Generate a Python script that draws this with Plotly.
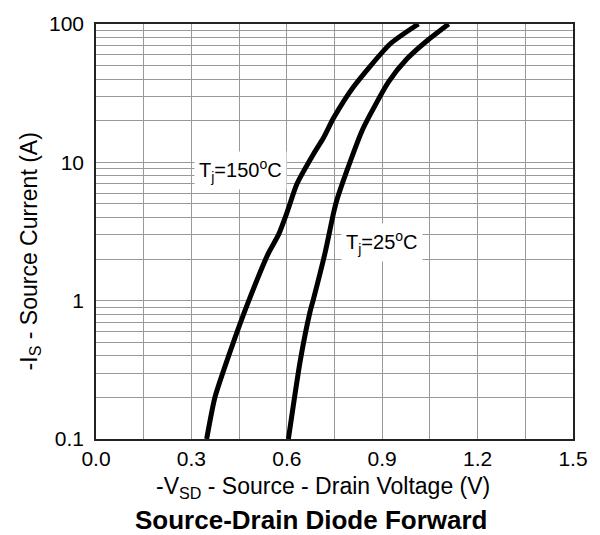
import plotly.graph_objects as go

# Data
v_150 = [0.348, 0.374, 0.422, 0.479, 0.542, 0.574, 0.600, 0.632, 0.684, 0.715, 0.747, 0.810, 0.925, 1.014]
i_150 = [0.1, 0.2, 0.43, 0.98, 2.2, 3.0, 4.3, 7.0, 11.5, 15.0, 20.9, 35.2, 71.7, 100]

v_25 = [0.605, 0.642, 0.673, 0.684, 0.720, 0.747, 0.757, 0.789, 0.836, 0.862, 0.920, 0.978, 1.041, 1.109]
i_25 = [0.1, 0.365, 0.83, 1.03, 2.2, 4.3, 5.3, 8.7, 16.8, 22.1, 38.2, 56.0, 75.7, 100]

x_tickvals = [0.0, 0.15, 0.3, 0.45, 0.6, 0.75, 0.9, 1.05, 1.2, 1.35, 1.5]
x_ticktext = ["0.0", "", "0.3", "", "0.6", "", "0.9", "", "1.2", "", "1.5"]

y_tickvals = [0.1, 0.2, 0.3, 0.4, 0.5, 0.6, 0.7, 0.8, 0.9,
              1, 2, 3, 4, 5, 6, 7, 8, 9,
              10, 20, 30, 40, 50, 60, 70, 80, 90, 100]
y_ticktext = ["0.1", "", "", "", "", "", "", "", "",
              "1", "", "", "", "", "", "", "", "",
              "10", "", "", "", "", "", "", "", "", "100"]

FONT = "Liberation Sans, Arial, sans-serif"

fig = go.Figure()
fig.add_trace(go.Scatter(x=v_150, y=i_150, mode="lines",
                         line=dict(color="black", width=5, shape="spline", smoothing=0.6),
                         showlegend=False, hoverinfo="skip"))
fig.add_trace(go.Scatter(x=v_25, y=i_25, mode="lines",
                         line=dict(color="black", width=5, shape="spline", smoothing=0.6),
                         showlegend=False, hoverinfo="skip"))

fig.update_layout(
    width=600, height=535,
    margin=dict(l=96, r=27, t=18, b=96),
    paper_bgcolor="white", plot_bgcolor="white",
    font=dict(family=FONT, size=21, color="black"),
    xaxis=dict(range=[0, 1.5], tickvals=x_tickvals, ticktext=x_ticktext,
               showgrid=True, gridcolor="#999999", gridwidth=1,
               showline=True, linecolor="#222222", linewidth=1.5, mirror=True,
               zeroline=False, ticks="", tickfont=dict(size=21)),
    yaxis=dict(type="log", range=[-1, 2], tickvals=y_tickvals, ticktext=y_ticktext,
               showgrid=True, gridcolor="#999999", gridwidth=1,
               showline=True, linecolor="#222222", linewidth=1.5, mirror=True,
               zeroline=False, ticks="", ticklabelstandoff=6, tickfont=dict(size=21)),
)

annotations = [
    dict(x=0.453, y=0.940, xref="x", yref="y", text="T<sub>j</sub>=150<sup>o</sup>C",
         showarrow=False, bgcolor="white", borderpad=4, font=dict(size=20)),
    dict(x=0.900, y=0.418, xref="x", yref="y", text="T<sub>j</sub>=25<sup>o</sup>C",
         showarrow=False, bgcolor="white", borderpad=4, font=dict(size=20)),
    dict(x=0.476, y=0, xref="paper", yref="paper", yshift=-48, yanchor="middle",
         text="-V<sub>SD</sub> - Source - Drain Voltage (V)", showarrow=False,
         font=dict(size=23)),
    dict(x=0.451, y=0, xref="paper", yref="paper", yshift=-81, yanchor="middle",
         text="<b>Source-Drain Diode Forward</b>", showarrow=False,
         font=dict(size=26)),
    dict(x=0, y=0.452, xref="paper", yref="paper", xshift=-66, xanchor="center",
         text="-I<sub>S</sub> - Source Current (A)", showarrow=False, textangle=-90,
         font=dict(size=23)),
]
fig.update_layout(annotations=annotations)

fig.write_html("out.html")
